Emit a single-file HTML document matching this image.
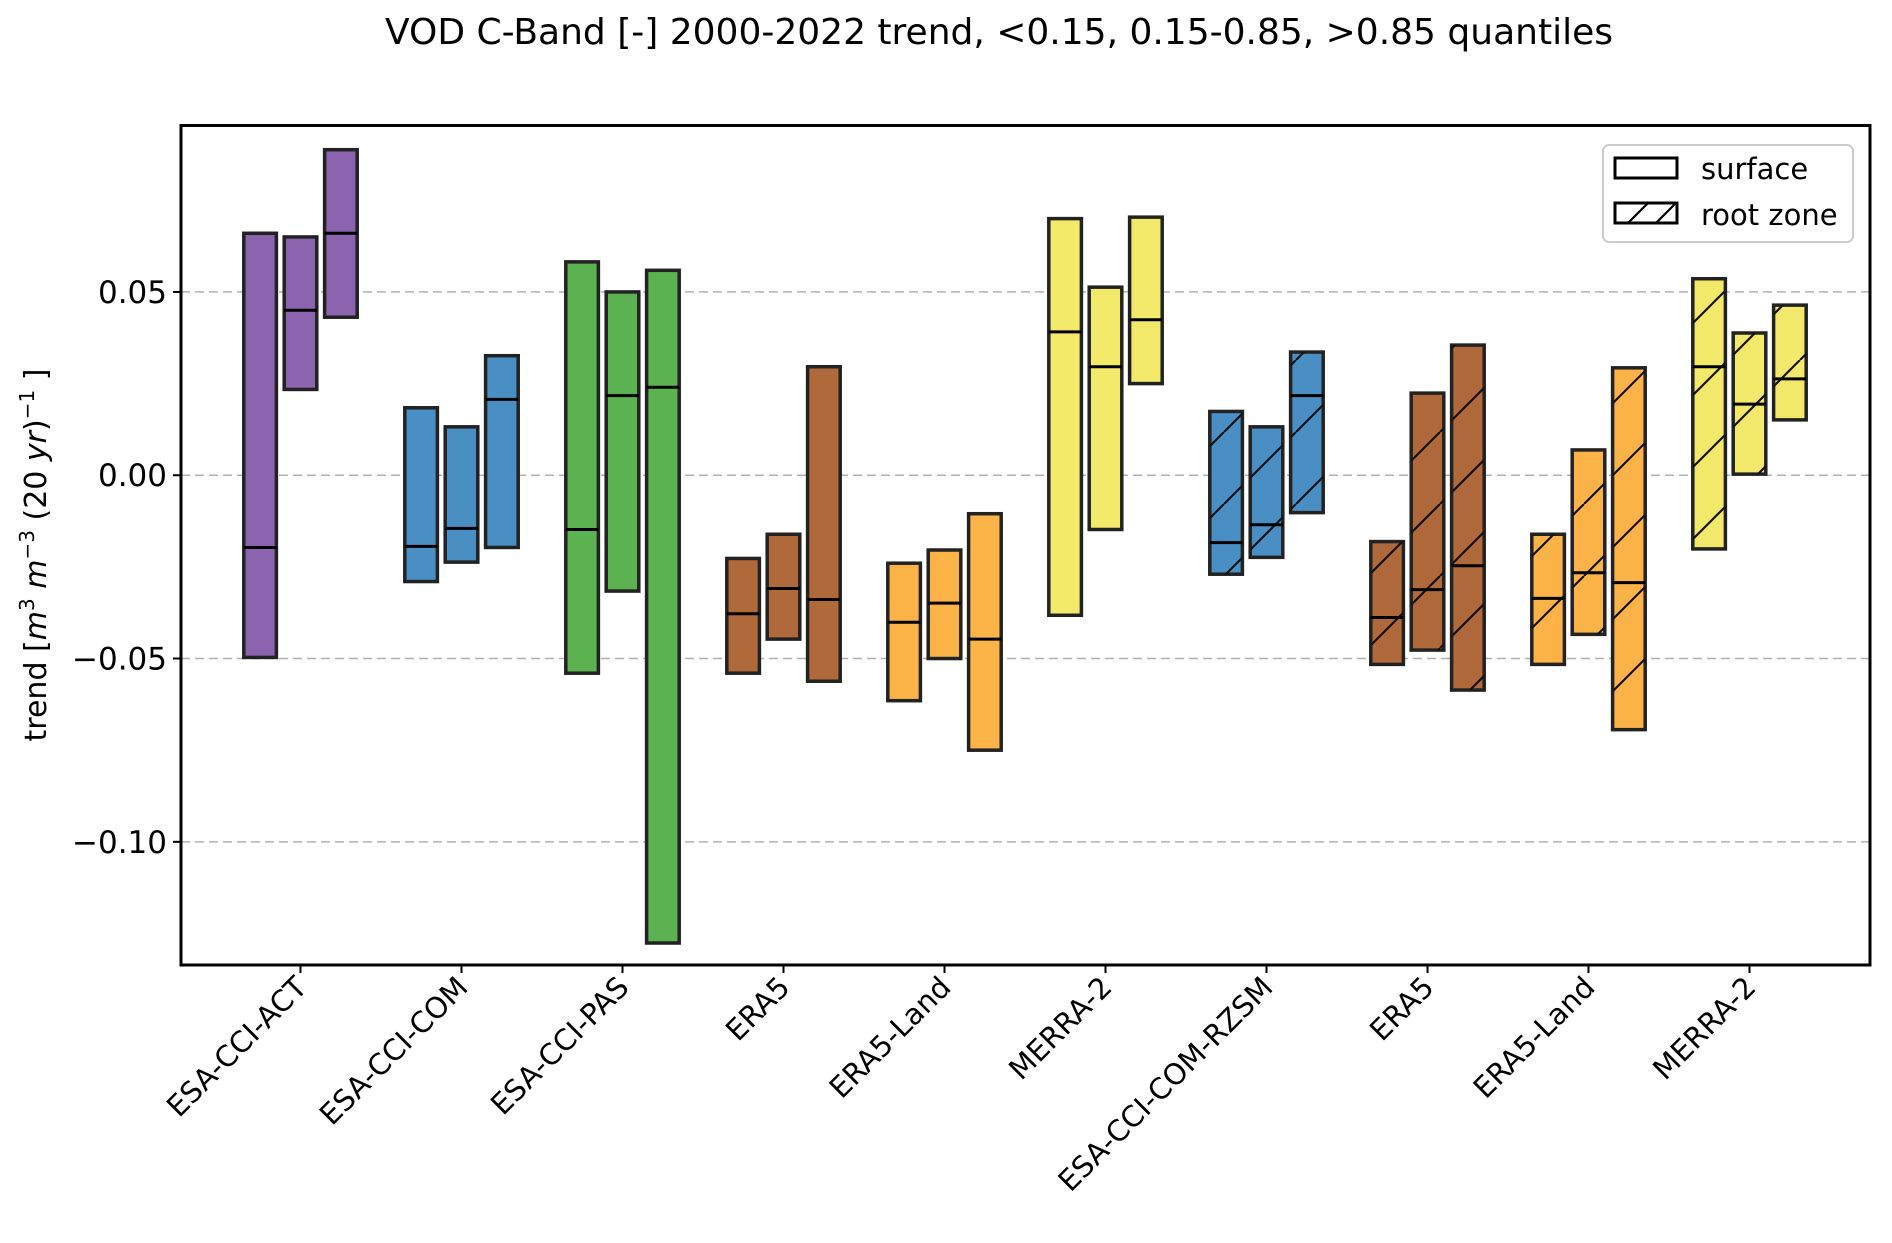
<!DOCTYPE html>
<html><head><meta charset="utf-8"><style>
body{margin:0;background:#fff}
text{font-family:"DejaVu Sans","Liberation Sans",sans-serif;fill:#000}
</style></head><body>
<svg id="chart" width="1892" height="1238" viewBox="0 0 1892 1238" xmlns="http://www.w3.org/2000/svg">
<defs>
<pattern id="hatch" patternUnits="userSpaceOnUse" width="72" height="72" x="0" y="0">
<line x1="0" y1="72" x2="72" y2="0" stroke="#111" stroke-width="2.2"/>
<line x1="-72" y1="72" x2="0" y2="0" stroke="#111" stroke-width="2.2"/>
<line x1="72" y1="72" x2="144" y2="0" stroke="#111" stroke-width="2.2"/>
</pattern>
</defs>
<text x="999" y="44" text-anchor="middle" font-size="36">VOD C-Band [-] 2000-2022 trend, &lt;0.15, 0.15-0.85, &gt;0.85 quantiles</text>
<g id="grid"></g>
<g id="boxes"></g>
<rect x="181" y="125.5" width="1689" height="839.5" fill="none" stroke="#000" stroke-width="3"/>
<g id="axes"></g>
<text transform="translate(46,555) rotate(-90)" text-anchor="middle" font-size="30">trend [<tspan font-style="italic">m</tspan><tspan font-size="20" dy="-12">3</tspan><tspan dy="12"> </tspan><tspan font-style="italic">m</tspan><tspan font-size="20" dy="-12">−3</tspan><tspan dy="12"> (20 </tspan><tspan font-style="italic">yr</tspan>)<tspan font-size="20" dy="-12">−1</tspan><tspan dy="12"> ]</tspan></text>
<g>
<rect x="1603" y="145" width="250" height="97" rx="6" fill="#fff" stroke="#ccc" stroke-width="2"/>
<rect x="1615" y="158" width="62" height="20" fill="#fff" stroke="#000" stroke-width="3"/>
<text x="1701" y="179" font-size="29">surface</text>
<rect x="1615" y="203" width="62" height="20" fill="#fff" stroke="#000" stroke-width="3"/>
<line x1="1628" y1="223" x2="1648" y2="203" stroke="#000" stroke-width="2.2"/>
<line x1="1656" y1="223" x2="1676" y2="203" stroke="#000" stroke-width="2.2"/>
<text x="1701" y="225" font-size="29">root zone</text>
</g>
</svg>
<script>
const categories=["ESA-CCI-ACT","ESA-CCI-COM","ESA-CCI-PAS","ERA5","ERA5-Land","MERRA-2","ESA-CCI-COM-RZSM","ERA5","ERA5-Land","MERRA-2"];
const colors=["#8b63ae","#4a8fc4","#5cb250","#b0693a","#fbb247","#f2e86a","#4a8fc4","#b0693a","#fbb247","#f2e86a"];
const hatched=[false,false,false,false,false,false,true,true,true,true];
const lowVals=[[-0.0497,0.0234,0.0431],[-0.029,-0.0237,-0.0197],[-0.054,-0.0316,-0.1276],[-0.054,-0.0447,-0.0562],[-0.0615,-0.05,-0.075],[-0.0382,-0.0148,0.025],[-0.027,-0.0224,-0.0102],[-0.0516,-0.0477,-0.0586],[-0.0516,-0.0434,-0.0694],[-0.0201,0.0003,0.0151]];
const highVals=[[0.066,0.065,0.0888],[0.0184,0.0132,0.0326],[0.0582,0.05,0.0559],[-0.0227,-0.0161,0.0296],[-0.024,-0.0204,-0.0105],[0.07,0.0513,0.0704],[0.0174,0.0132,0.0336],[-0.0181,0.0224,0.0355],[-0.0161,0.0069,0.0293],[0.0536,0.0388,0.0464]];
const medVals=[[-0.0197,0.045,0.066],[-0.0194,-0.0145,0.0207],[-0.0148,0.0217,0.024],[-0.0378,-0.0309,-0.0339],[-0.0401,-0.0349,-0.0447],[0.0391,0.0296,0.0424],[-0.0184,-0.0135,0.0217],[-0.0388,-0.0312,-0.0247],[-0.0336,-0.0266,-0.0293],[0.0296,0.0194,0.0263]];
const yTicks=[0.05,0,-0.05,-0.10];
const yTickLabels=["0.05","0.00","−0.05","−0.10"];

const NS="http://www.w3.org/2000/svg";
const L=181,R=1870,T=125.5,B=965,yMax=0.0954,yMin=-0.1336;
function ys(v){return T+(yMax-v)/(yMax-yMin)*(B-T);}
function xs(i){return 300.5+i*161;}
function mk(tag,attrs,parent){const e=document.createElementNS(NS,tag);for(const k in attrs)e.setAttribute(k,attrs[k]);parent.appendChild(e);return e;}
const grid=document.getElementById('grid'),boxes=document.getElementById('boxes'),axes=document.getElementById('axes');
yTicks.forEach((v,i)=>{
  const g=mk('line',{x1:L,x2:R,y1:ys(v),y2:ys(v),stroke:'#b0b0b0','stroke-width':1.5,'stroke-dasharray':'9,5'},grid);
  
  
  const t=mk('line',{x1:L-8,x2:L,y1:ys(v),y2:ys(v),stroke:'#000','stroke-width':2},axes);
  
  
  const tx=mk('text',{x:L-14,y:ys(v)+11,'text-anchor':'end','font-size':31},axes);
  tx.textContent=yTickLabels[i];
  
  
});
const W=32.6,off=40.4;
categories.forEach((c,i)=>{
  const cx=xs(i);
  for(let j=0;j<3;j++){
    const bx=cx+(j-1)*off-W/2;
    const y1=ys(highVals[i][j]),y2=ys(lowVals[i][j]);
    const r=mk('rect',{x:bx,y:y1,width:W,height:y2-y1,fill:colors[i],stroke:'#222','stroke-width':3.5},boxes);
    
    
    if(hatched[i]){
      const h=mk('rect',{x:bx,y:y1,width:W,height:y2-y1,fill:'url(#hatch)'},boxes);
      
      
    }
    const m=mk('line',{x1:bx,x2:bx+W,y1:ys(medVals[i][j]),y2:ys(medVals[i][j]),stroke:'#000','stroke-width':3},boxes);
    
    
  }
  const t=mk('line',{x1:cx,x2:cx,y1:B,y2:B+8,stroke:'#000','stroke-width':2},axes);
  
  
  const tx=mk('text',{transform:`translate(${cx+8},${B+24}) rotate(-45)`,'text-anchor':'end','font-size':29},axes);
  tx.textContent=c;
  
  
});
</script>
</body></html>
